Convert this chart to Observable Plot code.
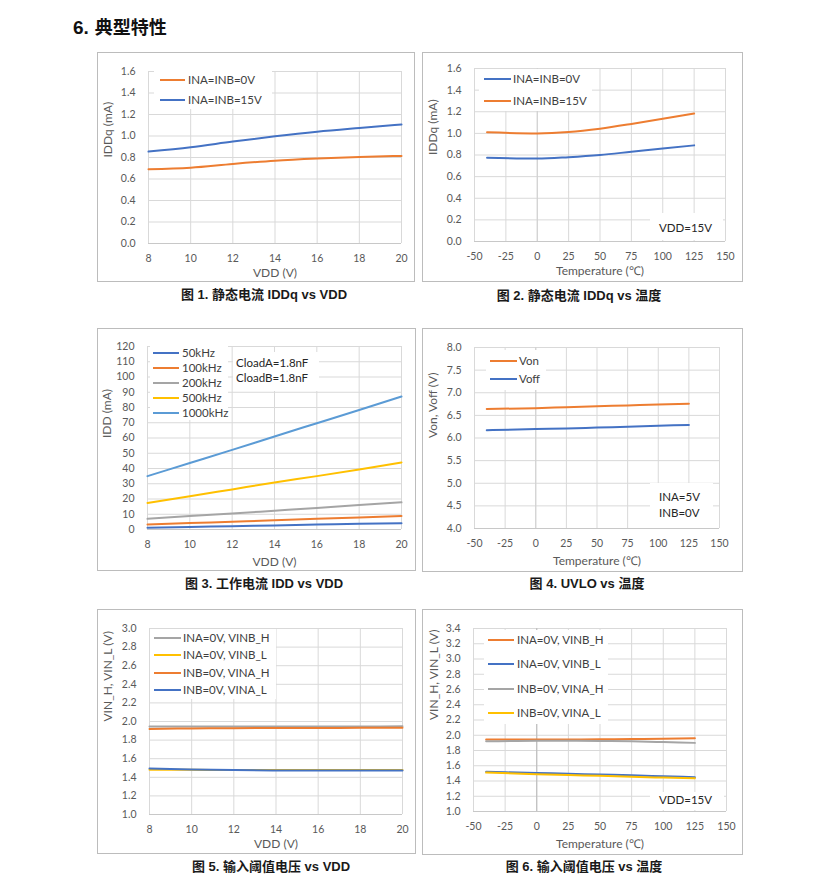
<!DOCTYPE html>
<html><head><meta charset="utf-8">
<script src="https://cdn.jsdelivr.net/npm/d3@7"></script>
<script src="https://cdn.jsdelivr.net/npm/@observablehq/plot@0.6"></script>
<style>
body{margin:0;background:#fff;}
#page{position:relative;width:818px;height:890px;overflow:hidden;background:#fff;font-family:Lato,"Open Sans",sans-serif;}
.panel{position:absolute;}
.panel svg{position:absolute;left:0;top:0;}
.border{position:absolute;left:0;top:0;right:0;bottom:0;border:1px solid #bcbcbc;pointer-events:none;}
.cap{position:absolute;transform:translate(-50%,-50%);font-family:"Liberation Sans","Noto Sans CJK SC",sans-serif;font-weight:bold;font-size:13px;color:#1a1a1a;white-space:nowrap;line-height:1;}
.hdr{position:absolute;left:73px;top:27px;transform:translateY(-50%);font-family:"Liberation Sans","Noto Sans CJK SC",sans-serif;font-weight:bold;font-size:18px;color:#111;white-space:nowrap;line-height:1;}
.hdr .num{font-size:19px;margin-right:6px;}
.lgt{position:absolute;transform:translateY(-50%);font-family:Lato,"Open Sans",sans-serif;font-size:11.5px;color:#404040;white-space:nowrap;line-height:1;}
.sw{position:absolute;height:2px;}
.bg{position:absolute;background:#fff;}
</style>
</head><body>
<div id="page"></div>
<script>
// ---- data ----
const vdd = [8, 10, 12, 14, 16, 18, 20];
const temp = [-40, 0, 25, 50, 75, 100, 125];

const vddTicks = [8, 10, 12, 14, 16, 18, 20];
const tempTicks = [-50, -25, 0, 25, 50, 75, 100, 125, 150];
const iddqTicks = [0, 0.2, 0.4, 0.6, 0.8, 1.0, 1.2, 1.4, 1.6];
const iddTicks = [0, 10, 20, 30, 40, 50, 60, 70, 80, 90, 100, 110, 120];
const uvloTicks = [4.0, 4.5, 5.0, 5.5, 6.0, 6.5, 7.0, 7.5, 8.0];
const vin5Ticks = [1.0, 1.2, 1.4, 1.6, 1.8, 2.0, 2.2, 2.4, 2.6, 2.8, 3.0];
const vin6Ticks = [1.0, 1.2, 1.4, 1.6, 1.8, 2.0, 2.2, 2.4, 2.6, 2.8, 3.0, 3.2, 3.4];

// Fig 1: IDDq vs VDD
const f1_in0 = [0.69, 0.705, 0.74, 0.77, 0.79, 0.805, 0.815];
const f1_in15 = [0.855, 0.895, 0.948, 0.997, 1.04, 1.075, 1.108];
// Fig 2: IDDq vs temperature
const f2_in0 = [0.775, 0.767, 0.78, 0.80, 0.83, 0.86, 0.889];
const f2_in15 = [1.01, 1.0, 1.012, 1.043, 1.087, 1.136, 1.183];
// Fig 3: IDD vs VDD
const f3_50k = [1.2, 1.7, 2.2, 2.7, 3.2, 3.7, 4.1];
const f3_100k = [3.3, 4.2, 5.1, 6.0, 7.0, 7.9, 8.8];
const f3_200k = [7.0, 8.8, 10.5, 12.3, 14.1, 16.0, 17.8];
const f3_500k = [17.4, 21.8, 26.3, 30.8, 35.0, 39.4, 44.0];
const f3_1000k = [35.0, 43.6, 52.2, 61.0, 69.7, 78.4, 87.2];
// Fig 4: UVLO vs temperature
const f4_von = [6.64, 6.66, 6.68, 6.70, 6.72, 6.74, 6.755];
const f4_voff = [6.17, 6.20, 6.21, 6.23, 6.25, 6.27, 6.29];
// Fig 5: input thresholds vs VDD
const f5_vinbH = [1.945, 1.945, 1.946, 1.946, 1.947, 1.947, 1.948];
const f5_vinbL = [1.48, 1.48, 1.478, 1.478, 1.478, 1.478, 1.479];
const f5_vinaH = [1.92, 1.925, 1.928, 1.93, 1.93, 1.932, 1.932];
const f5_vinaL = [1.495, 1.485, 1.478, 1.473, 1.472, 1.472, 1.472];
// Fig 6: input thresholds vs temperature
const f6_vinbH = [1.943, 1.945, 1.945, 1.947, 1.95, 1.955, 1.96];
const f6_vinbL = [1.52, 1.505, 1.495, 1.485, 1.475, 1.462, 1.45];
const f6_vinaH = [1.92, 1.928, 1.928, 1.925, 1.92, 1.91, 1.90];
const f6_vinaL = [1.51, 1.49, 1.478, 1.468, 1.455, 1.445, 1.437];

const ORANGE = "#ED7D31", BLUE = "#4472C4", GRAY = "#A5A5A5", YELLOW = "#FFC000", LBLUE = "#5B9BD5";

// ---- drawing ----
const page = document.getElementById("page");
function el(cls, css, html) {
  const d = document.createElement("div");
  d.className = cls;
  Object.assign(d.style, css);
  if (html != null) d.textContent = html;
  page.appendChild(d);
  return d;
}

function panel(c) {
  const rows = c.series.flatMap(s => s.values.map((v, i) => ({x: c.xs[i], y: v, name: s.name})));
  const fmtY = c.yFmt ? d3.format(c.yFmt) : (d => String(d));
  const marks = [
    Plot.gridX(c.xTicks, {stroke: "#d9d9d9", strokeOpacity: 1}),
    Plot.gridY(c.yTicks, {stroke: "#d9d9d9", strokeOpacity: 1}),
    Plot.ruleY([c.yTicks[0]], {stroke: "#c8c8c8"}),
  ];
  if (c.zero) marks.push(Plot.ruleX([0], {stroke: c.zero}));
  marks.push(
    Plot.axisX(c.xTicks, {tickSize: 0, tickPadding: 11, tickFormat: d => String(d), fill: "#595959", label: null, fontSize: 10.5}),
    Plot.axisY(c.yTicks, {tickSize: 0, tickPadding: 13, tickFormat: fmtY, fill: "#595959", label: null, fontSize: 10.5})
  );
  for (const s of c.series) {
    marks.push(Plot.line(rows.filter(r => r.name === s.name), {x: "x", y: "y", stroke: s.color, strokeWidth: 2, curve: "monotone-x"}));
  }
  marks.push(
    Plot.text([c.xLabel], {frameAnchor: "bottom", lineAnchor: "middle", dy: c.xLabelDy, fill: "#595959", fontSize: 12}),
    Plot.text([c.yLabel], {frameAnchor: "left", lineAnchor: "middle", dx: -c.yLabelDx, rotate: -90, fill: "#595959", fontSize: 12})
  );
  const svg = Plot.plot({
    width: c.box.w, height: c.box.h,
    marginLeft: c.m[0], marginRight: c.m[1], marginTop: c.m[2], marginBottom: c.m[3],
    x: {domain: [c.xTicks[0], c.xTicks[c.xTicks.length - 1]]},
    y: {domain: [c.yTicks[0], c.yTicks[c.yTicks.length - 1]]},
    style: {fontFamily: "Lato, 'Open Sans', sans-serif", fontSize: "10.5px", background: "transparent", color: "#595959", overflow: "visible"},
    marks
  });
  const wrap = el("panel", {left: c.box.x + "px", top: c.box.y + "px", width: c.box.w + "px", height: c.box.h + "px"});
  wrap.appendChild(svg);
  const b = document.createElement("div"); b.className = "border"; wrap.appendChild(b);
  // legend
  const L = c.legend;
  if (L.bg) el("bg", {left: L.bg[0] + "px", top: L.bg[1] + "px", width: (L.bg[2] - L.bg[0]) + "px", height: (L.bg[3] - L.bg[1]) + "px"});
  c.series.forEach((s, i) => {
    const y = L.y0 + i * L.dy;
    el("sw", {left: L.x1 + "px", top: (y - 1) + "px", width: (L.x2 - L.x1) + "px", background: s.color});
    el("lgt", {left: L.tx + "px", top: y + "px"}, s.name);
  });
  // annotation box
  if (c.note) {
    const n = c.note;
    el("bg", {left: n.box[0] + "px", top: n.box[1] + "px", width: (n.box[2] - n.box[0]) + "px", height: (n.box[3] - n.box[1]) + "px"});
    n.lines.forEach((t, i) => el("lgt", {left: n.tx + "px", top: (n.ty + i * n.dy) + "px", color: "#262626"}, t));
  }
  // caption
  el("cap", {left: c.cap[0] + "px", top: c.cap[1] + "px"}, c.caption);
}

const hdr = el("hdr", {});
hdr.innerHTML = '<span class="num">6.</span>典型特性';

panel({
  box: {x: 97, y: 52, w: 318, h: 230}, m: [51, 14, 19, 39],
  xs: vdd, xTicks: vddTicks, yTicks: iddqTicks, yFmt: ".1f",
  series: [{name: "INA=INB=0V", color: ORANGE, values: f1_in0}, {name: "INA=INB=15V", color: BLUE, values: f1_in15}],
  xLabel: "VDD (V)", xLabelDy: 30, yLabel: "IDDq (mA)", yLabelDx: 40,
  legend: {x1: 160, x2: 185, tx: 188, y0: 80, dy: 19.5, bg: [154, 69, 272, 109]},
  caption: "图 1. 静态电流 IDDq vs VDD", cap: [264, 294]
});

panel({
  box: {x: 422, y: 52, w: 321, h: 230}, m: [52, 18, 16, 41],
  xs: temp, xTicks: tempTicks, yTicks: iddqTicks, yFmt: ".1f", zero: "#d0d0d0",
  series: [{name: "INA=INB=0V", color: BLUE, values: f2_in0}, {name: "INA=INB=15V", color: ORANGE, values: f2_in15}],
  xLabel: "Temperature (℃)", xLabelDy: 30, yLabel: "IDDq (mA)", yLabelDx: 41,
  legend: {x1: 484, x2: 511, tx: 513, y0: 79, dy: 22, bg: [479, 69, 592, 111]},
  note: {box: [650, 213, 723, 240], tx: 659, ty: 228, dy: 0, lines: ["VDD=15V"]},
  caption: "图 2. 静态电流 IDDq vs 温度", cap: [579, 295]
});

panel({
  box: {x: 97, y: 328, w: 319, h: 243}, m: [50, 15, 18, 42],
  xs: vdd, xTicks: vddTicks, yTicks: iddTicks,
  series: [
    {name: "50kHz", color: BLUE, values: f3_50k},
    {name: "100kHz", color: ORANGE, values: f3_100k},
    {name: "200kHz", color: GRAY, values: f3_200k},
    {name: "500kHz", color: YELLOW, values: f3_500k},
    {name: "1000kHz", color: LBLUE, values: f3_1000k}
  ],
  xLabel: "VDD (V)", xLabelDy: 33, yLabel: "IDD (mA)", yLabelDx: 40,
  legend: {x1: 153, x2: 179, tx: 182, y0: 353, dy: 15, bg: [150, 346, 228, 420]},
  note: {box: [233, 352, 319, 391], tx: 236, ty: 363, dy: 15, lines: ["CloadA=1.8nF", "CloadB=1.8nF"]},
  caption: "图 3. 工作电流 IDD vs VDD", cap: [264, 583]
});

panel({
  box: {x: 422, y: 328, w: 321, h: 244}, m: [52, 24, 19, 44],
  xs: temp, xTicks: tempTicks, yTicks: uvloTicks, yFmt: ".1f", zero: "#d0d0d0",
  series: [{name: "Von", color: ORANGE, values: f4_von}, {name: "Voff", color: BLUE, values: f4_voff}],
  xLabel: "Temperature (℃)", xLabelDy: 33, yLabel: "Von, Voff (V)", yLabelDx: 41,
  legend: {x1: 490, x2: 517, tx: 519, y0: 361, dy: 18, bg: [486, 350, 546, 390]},
  note: {box: [650, 483, 713, 528], tx: 659, ty: 497, dy: 16, lines: ["INA=5V", "INB=0V"]},
  caption: "图 4. UVLO vs 温度", cap: [587, 583]
});

panel({
  box: {x: 97, y: 609, w: 319, h: 245}, m: [52, 14, 19, 40],
  xs: vdd, xTicks: vddTicks, yTicks: vin5Ticks, yFmt: ".1f",
  series: [
    {name: "INA=0V, VINB_H", color: GRAY, values: f5_vinbH},
    {name: "INA=0V, VINB_L", color: YELLOW, values: f5_vinbL},
    {name: "INB=0V, VINA_H", color: ORANGE, values: f5_vinaH},
    {name: "INB=0V, VINA_L", color: BLUE, values: f5_vinaL}
  ],
  xLabel: "VDD (V)", xLabelDy: 30, yLabel: "VIN_H, VIN_L (V)", yLabelDx: 41,
  legend: {x1: 154, x2: 181, tx: 183, y0: 638, dy: 17.4, bg: [150, 629, 276, 699]},
  caption: "图 5. 输入阈值电压 vs VDD", cap: [271, 866]
});

panel({
  box: {x: 422, y: 609, w: 321, h: 246}, m: [51, 17, 19, 44],
  xs: temp, xTicks: tempTicks, yTicks: vin6Ticks, yFmt: ".1f", zero: "#b8b8b8",
  series: [
    {name: "INA=0V, VINB_H", color: ORANGE, values: f6_vinbH},
    {name: "INA=0V, VINB_L", color: BLUE, values: f6_vinbL},
    {name: "INB=0V, VINA_H", color: GRAY, values: f6_vinaH},
    {name: "INB=0V, VINA_L", color: YELLOW, values: f6_vinaL}
  ],
  xLabel: "Temperature (℃)", xLabelDy: 33, yLabel: "VIN_H, VIN_L (V)", yLabelDx: 39,
  legend: {x1: 488, x2: 514, tx: 517, y0: 640, dy: 24.3, bg: [484, 630, 608, 724]},
  note: {box: [650, 792, 724, 810], tx: 659, ty: 800, dy: 0, lines: ["VDD=15V"]},
  caption: "图 6. 输入阈值电压 vs 温度", cap: [584, 866]
});
</script>
</body></html>
